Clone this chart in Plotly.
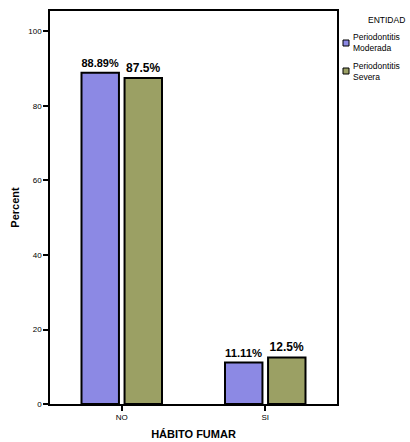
import plotly.graph_objects as go

categories = ["NO", "SI"]
series_names = ["Periodontitis<br>Moderada", "Periodontitis<br>Severa"]
moderada = [88.89, 11.11]
severa = [87.5, 12.5]
labels_moderada = ["88.89%", "11.11%"]
labels_severa = ["87.5%", "12.5%"]
colors = ["#8c89e4", "#9ba064"]
legend_title = "ENTIDAD"

W, H = 410, 442
ML, MR, MT, MB = 50, 73, 11, 38

fig = go.Figure()
for name, vals, labs, col in [
    (series_names[0], moderada, labels_moderada, colors[0]),
    (series_names[1], severa, labels_severa, colors[1]),
]:
    fig.add_trace(go.Bar(
        x=categories, y=vals, name=name, showlegend=False,
        text=labs, textposition="outside", cliponaxis=False,
        textfont=dict(family="Liberation Sans, Arial", size=12, color="black", weight="bold"),
        marker=dict(color=col, line=dict(color="black", width=2)),
    ))

# manual legend (paper coords relative to plot area)
pw = W - ML - MR
ph = H - MT - MB
def px(x):
    return (x - ML) / pw
def py(y):
    return (H - MB - y) / ph

fig.add_annotation(x=px(366), y=py(20), xref="paper", yref="paper",
                   text=legend_title, showarrow=False, xanchor="left", yanchor="middle",
                   font=dict(size=8.5))
legend_rows = [(43, series_names[0], colors[0]), (71, series_names[1], colors[1])]
for yc, name, col in legend_rows:
    fig.add_shape(type="rect", xref="paper", yref="paper",
                  x0=px(343), x1=px(349), y0=py(yc - 3), y1=py(yc + 3),
                  fillcolor=col, line=dict(color="black", width=1))
    fig.add_annotation(x=px(351), y=py(yc), xref="paper", yref="paper",
                       text=name, showarrow=False, xanchor="left", yanchor="middle",
                       align="left", font=dict(size=8.5))

fig.update_layout(
    width=W, height=H,
    margin=dict(l=ML, r=MR, t=MT, b=MB, autoexpand=False),
    paper_bgcolor="white", plot_bgcolor="white",
    barmode="group", bargap=0.4, bargroupgap=0.13,
    font=dict(family="Liberation Sans, Arial", size=8, color="black"),
    showlegend=False,
    xaxis=dict(
        title=dict(text="<b>HÁBITO FUMAR</b>", font=dict(size=11), standoff=9),
        showline=True, linecolor="black", linewidth=1.5, mirror=True,
        ticks="outside", ticklen=5, tickcolor="black", tickwidth=1.5,
        tickfont=dict(size=8),
    ),
    yaxis=dict(
        title=dict(text="<b>Percent</b>", font=dict(size=11), standoff=6),
        range=[0, 105.5], tickvals=[0, 20, 40, 60, 80, 100],
        showline=True, linecolor="black", linewidth=1.5, mirror=True,
        ticks="outside", ticklen=5, tickcolor="black", tickwidth=1.5,
        showgrid=False, zeroline=False, tickfont=dict(size=8),
    ),
)

fig.write_html("out.html", config={"displayModeBar": False},
               post_script="document.body.style.margin='0';")
